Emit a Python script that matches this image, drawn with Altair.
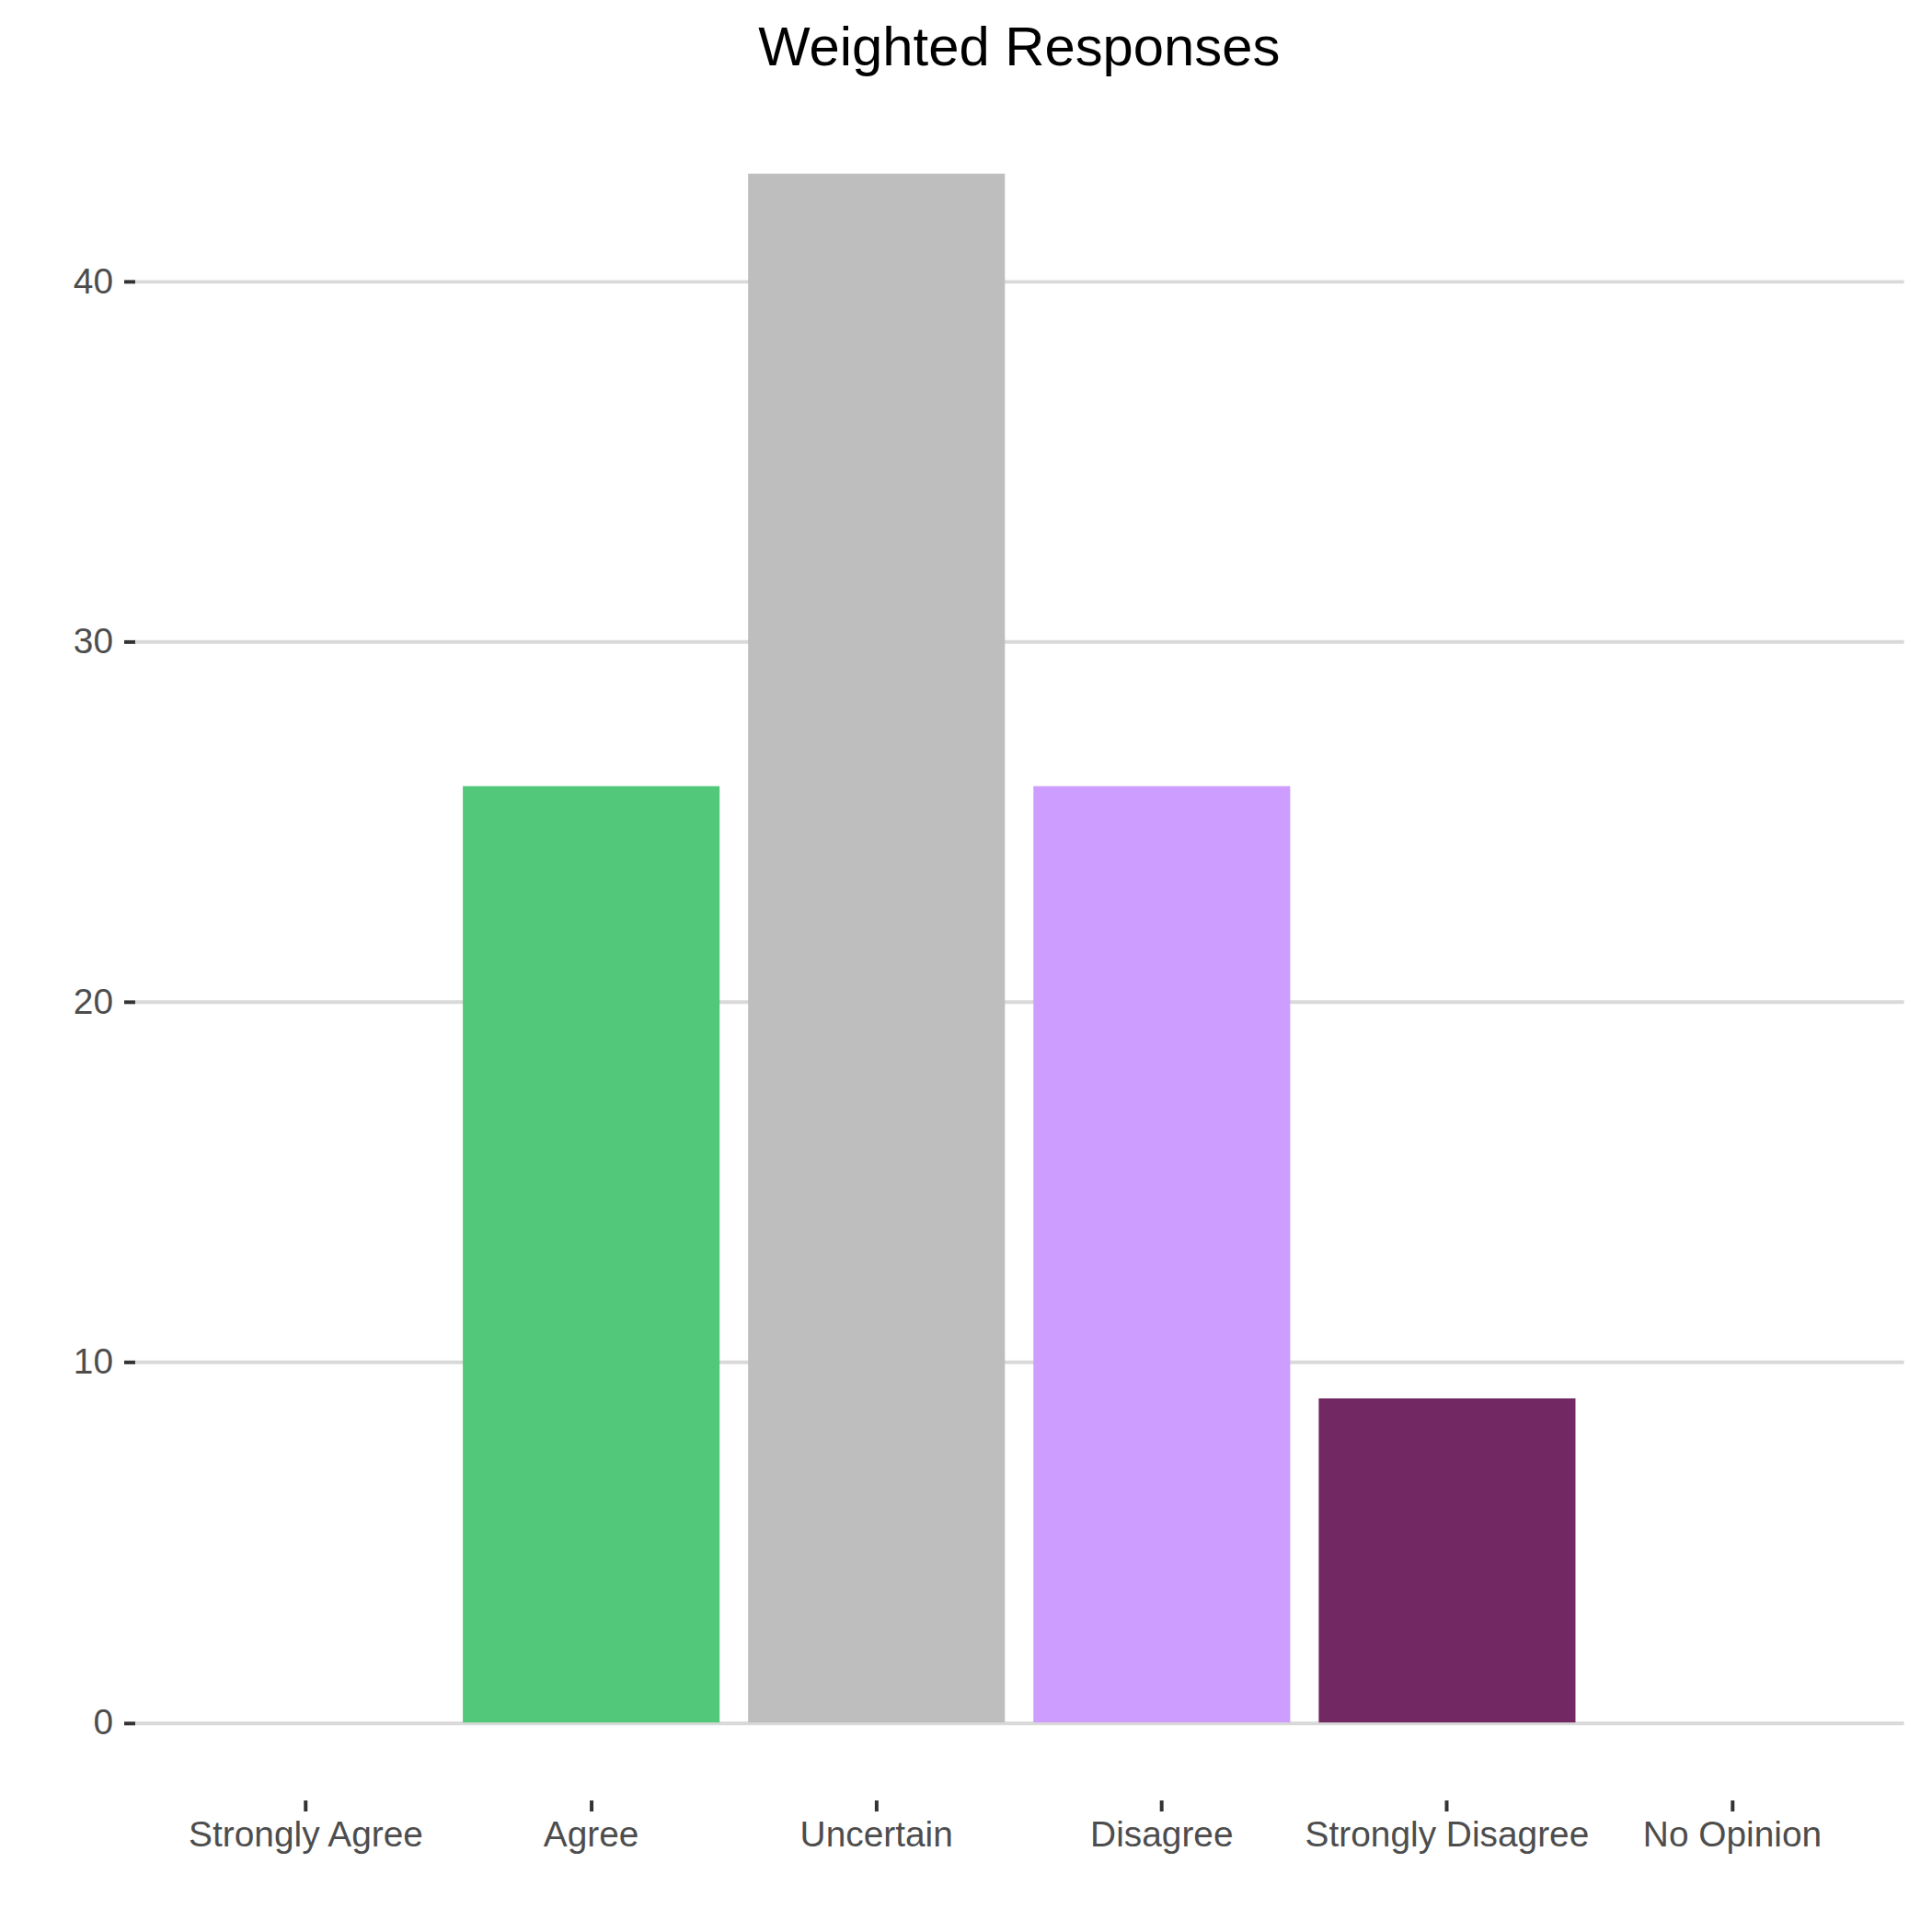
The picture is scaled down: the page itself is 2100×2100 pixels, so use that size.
import altair as alt
import pandas as pd

categories = ["Strongly Agree", "Agree", "Uncertain", "Disagree", "Strongly Disagree", "No Opinion"]
values = [0, 26, 43, 26, 9, 0]
colors = ["#1A7A3F", "#52C87A", "#BEBEBE", "#CD9DFF", "#722862", "#8C8C8C"]
y_ticks = [0, 10, 20, 30, 40]

df = pd.DataFrame({"category": categories, "value": values})

FONT = "Liberation Sans"

chart = (
    alt.Chart(df)
    .mark_bar()
    .encode(
        x=alt.X(
            "category:N",
            sort=categories,
            scale=alt.Scale(paddingInner=0.1, paddingOuter=0.15),
            axis=alt.Axis(
                title=None,
                labelAngle=0,
                labelLimit=0,
                domain=False,
                grid=False,
                ticks=True,
                tickColor="#333333",
                tickWidth=4,
                tickSize=12,
                labelPadding=7,
                labelFont=FONT,
                labelFontSize=39,
                labelColor="#4D4D4D",
            ),
        ),
        y=alt.Y(
            "value:Q",
            scale=alt.Scale(domain=[-2.15, 45.15], nice=False, zero=False),
            axis=alt.Axis(
                title=None,
                values=y_ticks,
                domain=False,
                grid=True,
                gridColor="#D9D9D9",
                gridWidth=4,
                tickColor="#333333",
                tickWidth=4,
                tickSize=12,
                labelPadding=12,
                labelFont=FONT,
                labelFontSize=39,
                labelColor="#4D4D4D",
            ),
        ),
        y2=alt.datum(0),
        color=alt.Color(
            "category:N",
            sort=categories,
            scale=alt.Scale(domain=categories, range=colors),
            legend=None,
        ),
    )
    .properties(
        width=1930,
        height=1859,
        title=alt.TitleParams(
            "Weighted Responses",
            font=FONT,
            fontSize=60,
            fontWeight="normal",
            color="#000000",
            anchor="middle",
            offset=21,
        ),
        padding={"left": 139, "top": 93, "right": 23, "bottom": 140},
        autosize=alt.AutoSizeParams(type="none"),
        background="#FFFFFF",
    )
    .configure_view(stroke=None)
)

chart.save("out.html", embed_options={"renderer": "svg", "actions": False})
